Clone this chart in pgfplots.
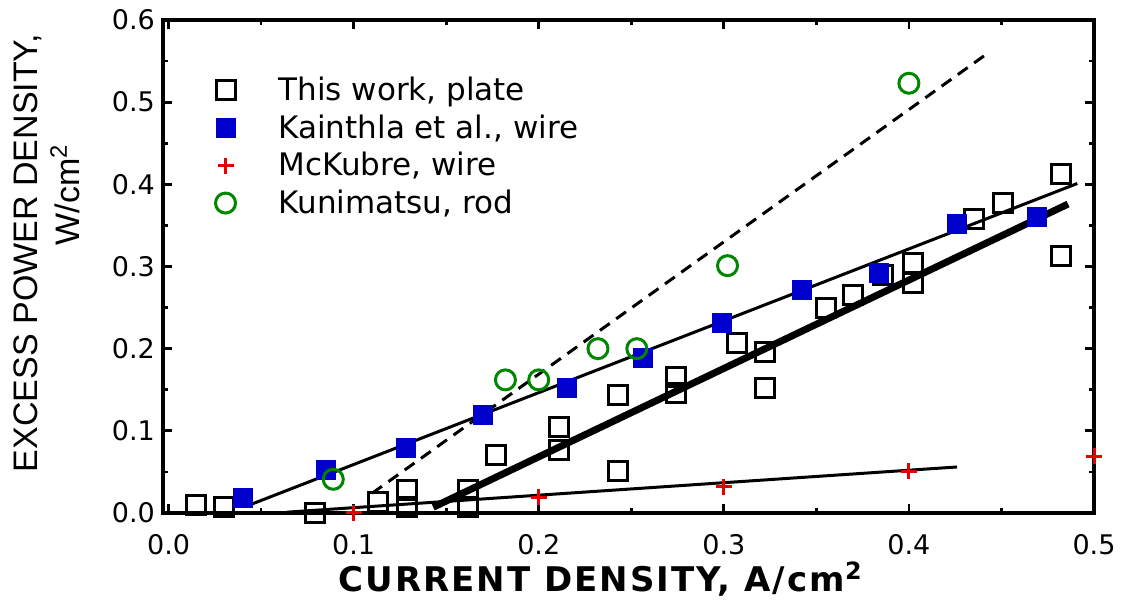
\documentclass[border=0pt]{standalone}
\usepackage{pgfplots}
\pgfplotsset{compat=1.18}
\usepackage{fontspec}
\setmainfont{DejaVu Sans}
\newfontfamily\xlabfont[LetterSpace=6]{DejaVu Sans}
\newfontfamily\ylabfont{Liberation Sans}

\definecolor{kblue}{RGB}{0,0,204}
\definecolor{mred}{RGB}{230,0,0}
\definecolor{kgreen}{RGB}{0,135,0}

\pgfplotsset{
    % open squares, this work
    style-plate/.style={black, only marks, mark=square, mark size=4.75pt,
        mark options={line width=1.5pt, solid}},
    style-kainthla/.style={kblue, only marks, mark=square*, mark size=4.75pt,
        mark options={draw=kblue, fill=kblue, line width=0.3pt}},
    style-mckubre/.style={mred, only marks, mark=+, mark size=4pt,
        mark options={line width=1.5pt}},
    style-kunimatsu/.style={kgreen, only marks, mark=o, mark size=5pt,
        mark options={line width=1.5pt}},
}

\begin{document}
\begin{tikzpicture}
\begin{axis}[
    name=ax,
    scale only axis,
    width=465.5pt, height=246.5pt,
    xmin=-0.003, xmax=0.5,
    ymin=0, ymax=0.6,
    xtick={0,0.1,0.2,0.3,0.4,0.5},
    xticklabels={0.0,0.1,0.2,0.3,0.4,0.5},
    ytick={0,0.1,0.2,0.3,0.4,0.5,0.6},
    yticklabels={0.0,0.1,0.2,0.3,0.4,0.5,0.6},
    minor tick num=1,
    tick align=inside,
    major tick length=4.5pt,
    minor tick length=2.5pt,
    every tick/.style={black, line width=1.4pt},
    axis line style={line width=2pt},
    ticklabel style={font=\fontsize{13.5}{16}\selectfont},
    xticklabel style={anchor=base, yshift=-21pt},
    yticklabel style={xshift=-0.5pt},
    xlabel={\xlabfont\bfseries CURRENT DENSITY, A/cm\textsuperscript{2}},
    xlabel style={at={(axis description cs:0.47,0)}, anchor=base,
        yshift=-39.5pt, font=\fontsize{17}{20}\selectfont},
    clip=false,
    legend cell align=left,
    legend style={at={(0.056,0.893)}, anchor=north west, draw=none,
        fill=none, inner sep=0pt, row sep=1.5pt, column sep=19.5pt,
        font=\fontsize{15.5}{18}\selectfont},
]

% --- This work, plate ---
\addplot[style-plate] coordinates {
    (0.015,0.010) (0.030,0.007) (0.079,0.000) (0.113,0.013)
    (0.129,0.028) (0.129,0.007) (0.162,0.028) (0.162,0.007)
    (0.177,0.071) (0.211,0.105) (0.211,0.077) (0.243,0.144)
    (0.243,0.051) (0.274,0.165) (0.274,0.146) (0.307,0.207)
    (0.322,0.196) (0.322,0.152) (0.355,0.249) (0.370,0.265)
    (0.386,0.290) (0.402,0.304) (0.402,0.280) (0.435,0.358)
    (0.451,0.377) (0.482,0.412) (0.482,0.313)
};
\addlegendentry{This work, plate}

% --- Kainthla et al., wire ---
\addplot[style-kainthla] coordinates {
    (0.040,0.019) (0.085,0.052) (0.128,0.079) (0.170,0.120)
    (0.215,0.152) (0.256,0.189) (0.299,0.231) (0.342,0.272)
    (0.384,0.292) (0.426,0.352) (0.469,0.361)
};
\addlegendentry{Kainthla et al., wire}

% --- McKubre, wire ---
\addplot[style-mckubre] coordinates {
    (0.1,0.000) (0.2,0.019) (0.3,0.032) (0.4,0.051) (0.5,0.069)
};
\addlegendentry{McKubre, wire}

% --- Kunimatsu, rod ---
\addplot[style-kunimatsu] coordinates {
    (0.089,0.041) (0.182,0.162) (0.200,0.162) (0.232,0.200)
    (0.253,0.200) (0.302,0.301) (0.400,0.523)
};
\addlegendentry{Kunimatsu, rod}

% --- fit lines ---
\addplot[forget plot, black, line width=1.5pt, dash pattern=on 6pt off 4pt]
    coordinates {(0.110,0.024) (0.441,0.557)};
\addplot[forget plot, black, line width=1.5pt]
    coordinates {(0.044,0.010) (0.491,0.401)};
\addplot[forget plot, black, line width=3.5pt]
    coordinates {(0.143,0.007) (0.486,0.376)};
\addplot[forget plot, black, line width=1.5pt]
    coordinates {(0.064,0.001) (0.426,0.056)};

% --- y label, two lines ---
\node[rotate=90, font=\ylabfont\fontsize{17}{20}\selectfont]
    at ([xshift=-67.5pt]rel axis cs:0,0.527) {EXCESS POWER DENSITY,};
\node[rotate=90, font=\ylabfont\fontsize{17}{20}\selectfont]
    at ([xshift=-49pt]rel axis cs:0,0.645) {W/cm\textsuperscript{2}};

\end{axis}
\pgfresetboundingbox
\path[use as bounding box] ([shift={(-81.5pt,-44pt)}]ax.south west)
    rectangle ([shift={(21pt,10pt)}]ax.north east);
\end{tikzpicture}
\end{document}
